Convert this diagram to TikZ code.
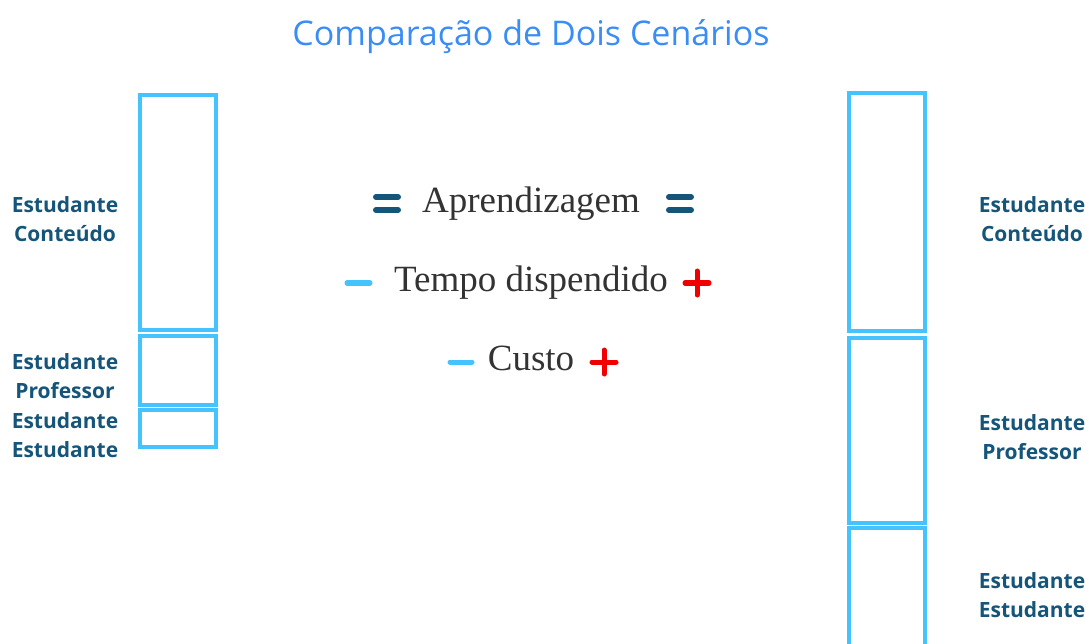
\documentclass[tikz,border=0pt]{standalone}
\usepackage{fontspec}
\setmainfont{Liberation Serif}
\setsansfont{Open Sans}
\definecolor{boxblue}{HTML}{45C3FF}
\definecolor{titleblue}{HTML}{3A8DF5}
\definecolor{darkteal}{HTML}{15557A}
\definecolor{txtgray}{HTML}{333333}
\definecolor{plusred}{HTML}{F00000}
\tikzset{
  bar/.style={draw=boxblue, line width=4pt},
  lbl/.style={font=\sffamily\bfseries\fontsize{21}{29}\selectfont, text=darkteal, align=center, inner sep=0pt},
  ctr/.style={font=\fontsize{37}{40}\selectfont, text=txtgray, inner sep=0pt, anchor=base},
  eqsym/.style={draw=darkteal, line width=6pt, line cap=round},
  minsym/.style={draw=boxblue, line width=5pt, line cap=round},
  plussym/.style={draw=plusred, line width=5pt, line cap=round},
}
\begin{document}
\begin{tikzpicture}[x=1pt,y=-1pt]
\useasboundingbox (0,0) rectangle (1089,644);
\clip (0,0) rectangle (1089,644);
\node[font=\sffamily\fontsize{34}{38}\selectfont, text=titleblue, inner sep=0pt] (title) at (531,37) {Comparação de Dois Cenários};
% left column
\draw[bar] (140,95) rectangle (216,330);
\draw[bar] (140,336) rectangle (216,405);
\draw[bar] (140,410) rectangle (216,447);
% right column
\draw[bar] (849,93) rectangle (925,331);
\draw[bar] (849,338) rectangle (925,523);
\draw[bar] (849,528) rectangle (925,660);
% labels left
\node[lbl] (l1) at (65,219) {Estudante\\Conteúdo};
\node[lbl] (l2) at (65,376) {Estudante\\Professor};
\node[lbl] (l3) at (65,435) {Estudante\\Estudante};
% labels right
\node[lbl] (r1) at (1032,219) {Estudante\\Conteúdo};
\node[lbl] (r2) at (1032,437) {Estudante\\Professor};
\node[lbl] (r3) at (1032,595) {Estudante\\Estudante};
% center
\node[ctr] (apr) at (531,213) {Aprendizagem};
\node[ctr] (tempo) at (531,291) {Tempo dispendido};
\node[ctr] (custo) at (531,370) {Custo};
% symbols
\draw[eqsym] (376,197) -- (398,197) (376,210) -- (398,210);
\draw[eqsym] (669,197) -- (691,197) (669,210) -- (691,210);
\draw[minsym] (347,283) -- (370,283);
\draw[plussym] (685,283) -- (709,283) (697,271) -- (697,295);
\draw[minsym] (450,362) -- (472,362);
\draw[plussym] (592,362) -- (616,362) (604,350) -- (604,374);
\end{tikzpicture}
\end{document}
